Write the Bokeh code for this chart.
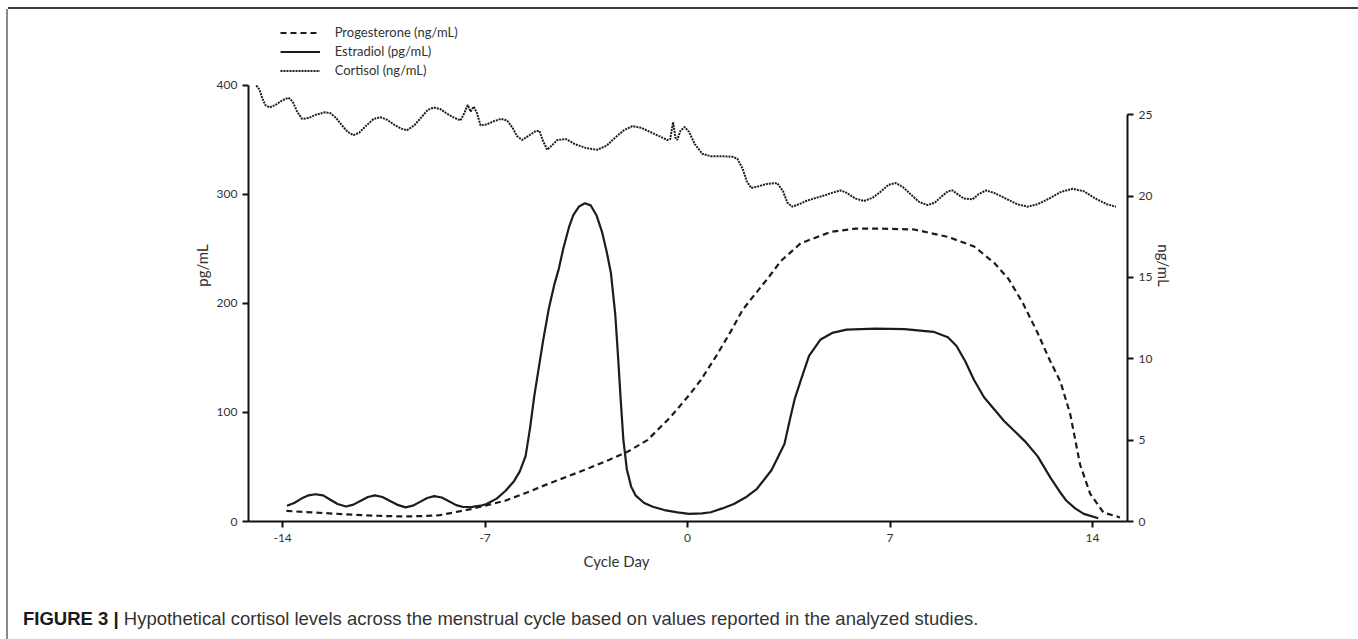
from bokeh.plotting import figure
from bokeh.layouts import column
from bokeh.models import Range1d, LinearAxis, Legend, LegendItem, FixedTicker, Title, Div
from bokeh.embed import file_html
from bokeh.resources import INLINE

# ---------------- data ----------------
x_ticks = [-14, -7, 0, 7, 14]
left_ticks = [0, 100, 200, 300, 400]
right_ticks = [0, 5, 10, 15, 20, 25]

estradiol_day = [-13.85, -13.6, -13.35, -13.1, -12.87, -12.6, -12.35, -12.1, -11.81, -11.55,
                 -11.3, -11.05, -10.81, -10.55, -10.3, -10.0, -9.75, -9.5, -9.25, -9.0,
                 -8.76, -8.5, -8.25, -8.0, -7.76, -7.45, -7.15, -6.95, -6.6, -6.3,
                 -6.0, -5.8, -5.6, -5.45, -5.3, -5.15, -5.0, -4.8, -4.6, -4.45,
                 -4.3, -4.1, -3.95, -3.75, -3.55, -3.35, -3.15, -2.95, -2.8, -2.65,
                 -2.5, -2.4, -2.32, -2.22, -2.1, -1.95, -1.8, -1.5, -1.2, -0.8,
                 -0.35, 0.05, 0.5, 0.8, 1.2, 1.6, 2.0, 2.4, 2.9, 3.35,
                 3.55, 3.7, 3.92, 4.2, 4.6, 5.0, 5.5, 6.5, 7.5, 8.5,
                 9.0, 9.3, 9.6, 9.9, 10.25, 10.6, 10.95, 11.3, 11.65, 12.1,
                 12.55, 12.85, 13.1, 13.4, 13.7, 14.2]
estradiol_pg = [14.5, 17, 21, 24, 25, 24, 20, 16, 13.8, 15.5,
                19, 22.5, 24, 22.5, 19, 15, 13, 14.5, 18, 21.5,
                23.3, 22, 18.5, 15, 13.3, 13.5, 14.5, 16, 21, 28,
                37, 46, 60, 85, 115, 140, 165, 195, 218, 232,
                250, 270, 281, 289, 292, 290, 281, 265, 248, 228,
                190, 150, 115, 75, 48, 32, 24, 17, 13.5, 10.5,
                8.3, 7, 7.5, 8.5, 12, 16, 22, 30, 47, 71,
                95, 112, 130, 152, 167, 173, 176, 177, 176.5, 174,
                169, 161, 147, 130, 114, 103, 92, 83, 74, 60,
                40, 28, 19, 12, 7, 3]

progesterone_day = [-13.87, -12.9, -11.88, -10.9, -9.89, -9.2, -8.56, -7.5, -6.3, -5.6,
                    -4.84, -4.1, -3.38, -2.7, -2.06, -1.39, -0.6, 0.07, 0.46, 1.0,
                    1.5, 1.9, 2.3, 2.8, 3.22, 3.91, 4.95, 5.8, 6.68, 7.83,
                    8.99, 9.91, 10.6, 11.1, 11.6, 12.1, 12.5, 12.89, 13.23, 13.57,
                    13.92, 14.38, 14.95]
progesterone_ng = [0.65, 0.55, 0.45, 0.36, 0.31, 0.33, 0.39, 0.76, 1.28, 1.75,
                   2.3, 2.8, 3.3, 3.8, 4.3, 5.0, 6.4, 7.8, 8.7, 10.2,
                   11.7, 13.0, 13.9, 15.0, 16.0, 17.1, 17.8, 18.0, 18.0, 17.95,
                   17.5, 16.9, 15.9, 14.9, 13.4, 11.6, 10.0, 8.6, 6.6, 3.5,
                   1.7, 0.55, 0.25]

cortisol_day = [-14.91, -14.8, -14.7, -14.6, -14.45, -14.25, -14.0, -13.8, -13.65, -13.5,
                -13.33, -13.1, -12.85, -12.55, -12.35, -12.15, -11.95, -11.75, -11.55, -11.35,
                -11.1, -10.85, -10.62, -10.4, -10.15, -9.9, -9.7, -9.45, -9.2, -8.98,
                -8.78, -8.55, -8.3, -8.05, -7.85, -7.72, -7.6, -7.5, -7.39, -7.28,
                -7.16, -6.95, -6.7, -6.45, -6.24, -6.05, -5.9, -5.72, -5.5, -5.25,
                -5.12, -5.0, -4.85, -4.7, -4.5, -4.2, -3.9, -3.5, -3.12, -2.8,
                -2.5, -2.2, -1.91, -1.6, -1.3, -1.0, -0.7, -0.6, -0.5, -0.42,
                -0.36, -0.25, -0.1, 0.05, 0.25, 0.51, 0.8, 1.2, 1.55, 1.72,
                1.9, 2.05, 2.2, 2.45, 2.75, 3.1, 3.3, 3.45, 3.62, 3.85,
                4.1, 4.37, 4.65, 5.0, 5.29, 5.5, 5.8, 6.1, 6.4, 6.7,
                6.95, 7.2, 7.45, 7.75, 8.0, 8.29, 8.55, 8.8, 9.0, 9.16,
                9.35, 9.55, 9.85, 10.05, 10.31, 10.6, 11.0, 11.4, 11.75, 12.1,
                12.5, 12.9, 13.31, 13.7, 14.1, 14.5, 14.81]
cortisol_ng = [26.8, 26.55, 26.0, 25.6, 25.45, 25.6, 25.9, 26.05, 25.8, 25.2,
               24.75, 24.8, 25.0, 25.15, 25.1, 24.8, 24.35, 23.95, 23.75, 23.9,
               24.35, 24.75, 24.85, 24.7, 24.4, 24.15, 24.05, 24.35, 24.85, 25.3,
               25.45, 25.35, 25.05, 24.8, 24.65, 25.1, 25.6, 25.2, 25.5, 25.1,
               24.35, 24.4, 24.6, 24.75, 24.65, 24.2, 23.7, 23.45, 23.7, 24.0,
               24.0, 23.4, 22.85, 23.1, 23.45, 23.5, 23.2, 22.95, 22.85, 23.1,
               23.6, 24.05, 24.3, 24.2, 23.95, 23.7, 23.45, 23.5, 24.55, 23.6,
               23.45, 24.0, 24.25, 23.95, 23.2, 22.6, 22.45, 22.45, 22.42, 22.3,
               21.7, 20.9, 20.5, 20.6, 20.75, 20.8, 20.3, 19.6, 19.35, 19.5,
               19.7, 19.85, 20.0, 20.2, 20.35, 20.2, 19.85, 19.7, 19.9, 20.3,
               20.7, 20.8, 20.55, 20.05, 19.65, 19.45, 19.6, 20.0, 20.3, 20.35,
               20.1, 19.85, 19.8, 20.1, 20.35, 20.2, 19.85, 19.5, 19.35, 19.5,
               19.85, 20.25, 20.45, 20.3, 19.85, 19.5, 19.35]

legend_labels = ["Progesterone (ng/mL)", "Estradiol (pg/mL)", "Cortisol (ng/mL)"]
x_title = "Cycle Day"
left_title = "pg/mL"
right_title = "ng/mL"
caption_bold = "FIGURE 3 |"
caption_text = "Hypothetical cortisol levels across the menstrual cycle based on values reported in the analyzed studies."

# ---------------- main figure ----------------
FONT = "Lato"
INK = "#1c1c1c"
W = 1347

p = figure(width=W, height=582, output_backend="svg", toolbar_location=None,
           x_range=Range1d(-15.18, 15.21), y_range=Range1d(0, 469.7),
           min_border_left=240, min_border_right=228, min_border_top=0, min_border_bottom=70)
p.extra_y_ranges = {"ng": Range1d(0, 31.47)}
p.xgrid.visible = False
p.ygrid.visible = False
p.outline_line_color = None
p.background_fill_color = "white"
p.border_fill_color = "white"

r_prog = p.line(progesterone_day, progesterone_ng, y_range_name="ng", line_color=INK,
                line_width=2.2, line_dash="6 4")
r_est = p.line(estradiol_day, estradiol_pg, line_color=INK, line_width=2.2)
r_cort = p.line(cortisol_day, cortisol_ng, y_range_name="ng", line_color=INK,
                line_width=2, line_dash="2 1")

right_axis = LinearAxis(y_range_name="ng")
p.add_layout(right_axis, "right")


def style(ax):
    ax.axis_line_color = "#111111"
    ax.axis_line_width = 2
    ax.major_tick_line_color = "#111111"
    ax.major_tick_line_width = 2
    ax.major_tick_out = 6
    ax.major_tick_in = 0
    ax.minor_tick_line_color = None
    ax.major_label_text_font = FONT
    ax.major_label_text_font_size = "12px"
    ax.major_label_text_color = "#333333"
    ax.axis_label_text_font = FONT
    ax.axis_label_text_font_style = "normal"
    ax.axis_label_text_font_size = "15px"
    ax.axis_label_text_color = "#333333"


xa = p.xaxis[0]
ya = p.yaxis[0]
for ax in (xa, ya, right_axis):
    style(ax)
xa.ticker = FixedTicker(ticks=x_ticks)
xa.major_label_overrides = {t: str(t) for t in x_ticks}
ya.ticker = FixedTicker(ticks=left_ticks)
right_axis.ticker = FixedTicker(ticks=right_ticks)
ya.bounds = (0, 400)
right_axis.bounds = (0, 25)
ya.axis_label = left_title
ya.axis_label_standoff = 3
right_axis.axis_label = right_title
right_axis.axis_label_standoff = 0
xa.major_label_standoff = 6

p.add_layout(Title(text=x_title, align="left", offset=335, standoff=12,
                   vertical_align="middle", text_font=FONT, text_font_size="15px",
                   text_font_style="normal", text_color="#333333"), "below")

legend = Legend(items=[LegendItem(label=legend_labels[0], renderers=[r_prog]),
                       LegendItem(label=legend_labels[1], renderers=[r_est]),
                       LegendItem(label=legend_labels[2], renderers=[r_cort])],
                location=(31.7, 441.5), orientation="vertical",
                glyph_width=40, glyph_height=19, label_height=19, label_standoff=15,
                padding=0, margin=0, spacing=0, border_line_color=None,
                background_fill_alpha=0, label_text_font=FONT,
                label_text_font_size="13px", label_text_color="#333333")
p.add_layout(legend, "center")

caption = Div(text='<span style="font-weight:bold;color:#1a1a1a">' + caption_bold
                   + '</span> ' + caption_text,
              width=W, height=48,
              styles={"font-family": "'Liberation Sans', Arial, sans-serif", "font-size": "18.5px",
                      "color": "#333333", "padding-top": "10px", "padding-left": "10px",
                      "box-sizing": "border-box", "white-space": "nowrap"})

layout = column(p, caption, spacing=0,
                styles={"margin-left": "8px", "margin-top": "9px",
                        "box-shadow": "0 -2px 0 0 #3c3c3c, -2px 0 0 0 #8a8a8a, 2px 0 0 0 #8a8a8a"})

open("out.html", "w").write(file_html(layout, INLINE))
